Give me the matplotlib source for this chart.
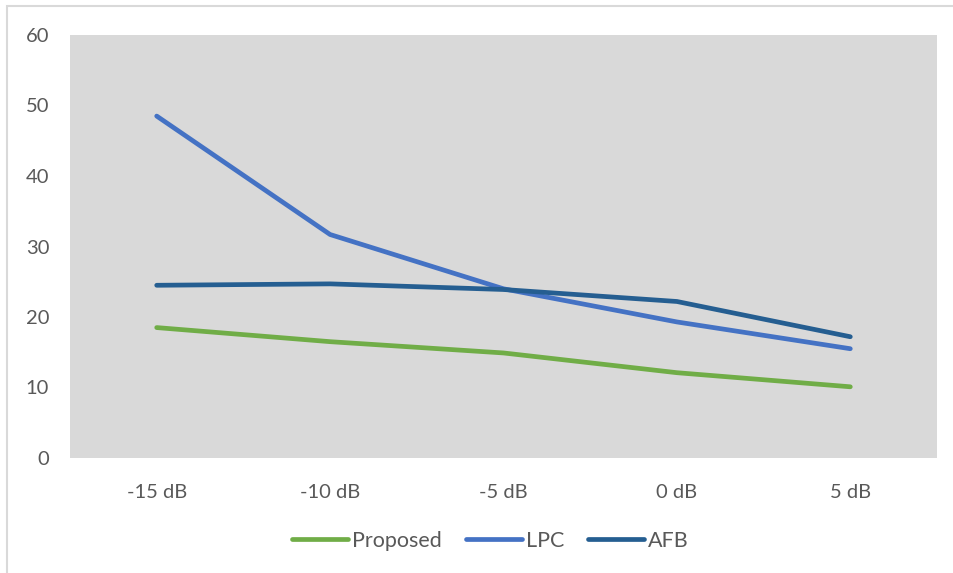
import matplotlib.pyplot as plt
from matplotlib.patches import Rectangle

# SNR levels and the error values of each method
snr_labels = ['-15 dB', '-10 dB', '-5 dB', '0 dB', '5 dB']
proposed = [18.5, 16.5, 14.9, 12.1, 10.1]
lpc = [48.5, 31.7, 24.0, 19.3, 15.5]
afb = [24.5, 24.7, 23.9, 22.2, 17.2]

series = [('Proposed', proposed, '#70AD47'),
          ('LPC', lpc, '#4472C4'),
          ('AFB', afb, '#255E91')]

plt.rcParams['font.family'] = ['Lato', 'DejaVu Sans']

fig = plt.figure(figsize=(9.54, 5.73), dpi=100)
ax = fig.add_axes([70 / 954, 115 / 573, 867 / 954, 423 / 573])
ax.set_facecolor('#D9D9D9')

x = range(len(snr_labels))
for name, values, color in series:
    ax.plot(x, values, color=color, linewidth=3.4, solid_capstyle='round',
            solid_joinstyle='round', label=name)

ax.set_xlim(-0.5, len(snr_labels) - 0.5)
ax.set_ylim(0, 60)
ax.set_yticks(range(0, 61, 10))
ax.set_xticks(list(x))
ax.set_xticklabels(snr_labels)
ax.tick_params(length=0, labelsize=14.5, labelcolor='#595959')
ax.tick_params(axis='y', pad=15)
ax.tick_params(axis='x', pad=19)
for s in ax.spines.values():
    s.set_visible(False)

# outer chart frame
fig.patches.append(Rectangle((7 / 954, -0.1), 1.2, 1.1 - 6 / 573,
                             transform=fig.transFigure, fill=False,
                             edgecolor='#D9D9D9', linewidth=1.5))

leg = fig.legend(loc='center', bbox_to_anchor=(0.514, 1 - 541 / 573), ncol=3,
                 frameon=False, fontsize=15.5, handlelength=2.6,
                 handletextpad=0.2, columnspacing=1.1)
for t in leg.get_texts():
    t.set_color('#595959')

fig.savefig('out.png', dpi=100)
